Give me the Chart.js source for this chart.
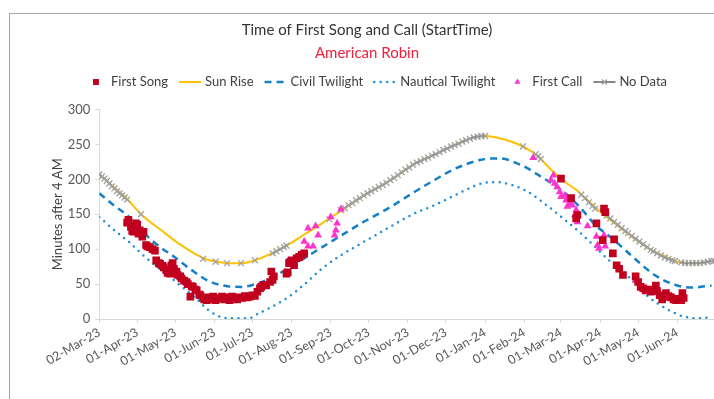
<!DOCTYPE html>
<html>
<head>
<meta charset="utf-8">
<script src="https://cdn.jsdelivr.net/npm/chart.js@4.4.1/dist/chart.umd.min.js"></script>
<style>
  html, body { margin: 0; padding: 0; overflow: hidden; background: #fff; }
  #frame { position: absolute; left: 9px; top: 13px; width: 720px; height: 390px;
           border-left: 1px solid #a6a6a6; border-top: 1px solid #a6a6a6; }
  canvas { display: block; }
</style>
</head>
<body>
<div id="frame"><canvas id="chart" width="714" height="385"></canvas></div>
<script>
// Axis ticks
const tickDates = ['2023-03-02', '2023-04-01', '2023-05-01', '2023-06-01', '2023-07-01', '2023-08-01',
  '2023-09-01', '2023-10-01', '2023-11-01', '2023-12-01', '2024-01-01', '2024-02-01',
  '2024-03-01', '2024-04-01', '2024-05-01', '2024-06-01'];
const tickLabels = ['02-Mar-23', '01-Apr-23', '01-May-23', '01-Jun-23', '01-Jul-23', '01-Aug-23',
  '01-Sep-23', '01-Oct-23', '01-Nov-23', '01-Dec-23', '01-Jan-24', '01-Feb-24',
  '01-Mar-24', '01-Apr-24', '01-May-24', '01-Jun-24'];

// First Song (minutes after 4 AM)
const songDates = ['2023-03-24', '2023-03-25', '2023-03-27', '2023-03-28', '2023-03-29', '2023-03-31',
  '2023-04-01', '2023-04-02', '2023-04-03', '2023-04-05', '2023-04-06', '2023-04-08', '2023-04-09',
  '2023-04-11', '2023-04-13', '2023-04-15', '2023-04-16', '2023-04-18', '2023-04-19', '2023-04-21',
  '2023-04-22', '2023-04-24', '2023-04-25', '2023-04-27', '2023-04-28', '2023-04-29', '2023-04-30',
  '2023-05-02', '2023-05-03', '2023-05-05', '2023-05-06', '2023-05-08', '2023-05-10', '2023-05-11',
  '2023-05-13', '2023-05-14', '2023-05-15', '2023-05-17', '2023-05-18', '2023-05-20', '2023-05-21',
  '2023-05-23', '2023-05-24', '2023-05-26', '2023-05-27', '2023-05-28', '2023-05-30', '2023-05-31',
  '2023-06-02', '2023-06-03', '2023-06-05', '2023-06-07', '2023-06-09', '2023-06-11', '2023-06-13',
  '2023-06-15', '2023-06-17', '2023-06-19', '2023-06-21', '2023-06-23', '2023-06-25', '2023-06-27',
  '2023-06-29', '2023-07-01', '2023-07-03', '2023-07-05', '2023-07-07', '2023-07-08', '2023-07-10',
  '2023-07-12', '2023-07-15', '2023-07-16', '2023-07-17', '2023-07-18', '2023-07-28', '2023-07-29',
  '2023-07-30', '2023-07-31', '2023-08-01', '2023-08-03', '2023-08-05', '2023-08-07', '2023-08-09',
  '2023-08-11',
  '2024-03-01', '2024-03-09', '2024-03-13', '2024-03-14', '2024-03-29', '2024-04-04', '2024-04-05',
  '2024-04-03', '2024-04-11', '2024-04-12', '2024-04-14', '2024-04-16', '2024-04-19', '2024-04-29',
  '2024-05-01', '2024-05-03', '2024-05-05', '2024-05-07', '2024-05-09', '2024-05-11', '2024-05-15',
  '2024-05-16', '2024-05-18', '2024-05-20', '2024-05-21', '2024-05-23', '2024-05-25', '2024-05-27',
  '2024-05-29', '2024-05-31', '2024-06-02', '2024-06-04', '2024-06-05', '2024-06-06'];
const songValues = [138, 142, 132, 126, 125, 137,
  135, 122, 127, 118, 125, 106, 104,
  103, 100, 98, 84, 80, 79, 76,
  74, 70, 66, 65, 77, 80, 72,
  68, 63, 61, 58, 55, 53, 50,
  32, 47, 46, 42, 41, 35, 34,
  30, 28, 27, 31, 30, 28, 32,
  27, 30, 29, 32, 28, 31, 27,
  32, 30, 28, 31, 30, 33, 31,
  32, 34, 33, 39, 44, 46, 49,
  48, 53, 68, 56, 61, 65, 67,
  80, 82, 84, 77, 87, 89, 92,
  94,
  201, 173, 144, 149, 137, 158, 153,
  113, 94, 114, 77, 72, 63, 61,
  53, 46, 44, 41, 42, 39, 48,
  40, 34, 28, 32, 37, 33, 31,
  28, 27, 29, 27, 37, 30];

// First Call
const callDates = ['2023-08-11', '2023-08-14', '2023-08-14', '2023-08-18', '2023-08-20', '2023-08-22',
  '2023-09-01', '2023-09-04', '2023-09-05', '2023-09-06', '2023-09-09',
  '2024-02-08', '2024-02-22', '2024-02-24', '2024-02-25', '2024-02-27', '2024-02-29', '2024-03-01',
  '2024-03-04', '2024-03-05', '2024-03-06', '2024-03-08', '2024-03-10', '2024-03-12', '2024-03-13',
  '2024-03-14', '2024-03-22', '2024-03-29', '2024-03-30', '2024-03-31', '2024-04-03', '2024-04-04',
  '2024-04-05', '2024-04-29'];
const callValues = [111, 130, 104, 104, 133, 120,
  146, 120, 127, 137, 157,
  231, 199, 206, 194, 189, 182, 175,
  177, 170, 161, 166, 163, 149, 156,
  139, 133, 118, 106, 101, 111, 120,
  104, 56];

// Sun Rise
const sunDates = ['2023-03-02', '2023-03-14', '2023-03-25', '2023-04-04', '2023-04-20', '2023-05-03',
  '2023-05-17', '2023-05-25', '2023-06-03', '2023-06-12', '2023-06-23', '2023-07-03', '2023-07-15',
  '2023-07-28', '2023-08-11', '2023-08-25', '2023-09-10', '2023-10-03', '2023-10-16', '2023-11-08',
  '2023-11-22', '2023-12-08', '2023-12-23', '2024-01-02', '2024-01-14', '2024-01-31', '2024-02-11',
  '2024-02-21', '2024-03-02', '2024-03-13', '2024-03-22', '2024-03-31', '2024-04-14', '2024-04-28',
  '2024-05-12', '2024-05-22', '2024-06-03', '2024-06-15', '2024-06-30'];
const sunValues = [207, 188, 170, 150, 127, 109,
  93, 86, 82, 80, 80, 84, 93,
  105, 121, 137, 156, 183, 196, 224,
  235, 249, 260, 262, 258, 247, 234,
  216, 199, 185, 170, 155, 135, 115,
  98, 90, 81, 80, 83];

// Civil Twilight
const civilDates = ['2023-03-02', '2023-03-14', '2023-03-25', '2023-04-03', '2023-04-17', '2023-05-01',
  '2023-05-14', '2023-05-28', '2023-06-11', '2023-06-23', '2023-07-05', '2023-07-15', '2023-07-29',
  '2023-08-19', '2023-09-07', '2023-09-25', '2023-10-16', '2023-11-08', '2023-11-22', '2023-12-08',
  '2023-12-29', '2024-01-12', '2024-01-30', '2024-02-14', '2024-03-01', '2024-03-16', '2024-03-28',
  '2024-04-12', '2024-04-28', '2024-05-14', '2024-05-30', '2024-06-12', '2024-06-28'];
const civilValues = [180, 162, 147, 129, 106, 88,
  70, 54, 47, 46, 51, 58, 72,
  96, 117, 137, 158, 184, 199, 215,
  228, 230, 220, 204, 185, 160, 135,
  113, 87, 63, 49, 45, 48];

// Nautical Twilight
const nauticalDates = ['2023-03-02', '2023-03-14', '2023-03-25', '2023-04-07', '2023-04-20', '2023-05-03',
  '2023-05-16', '2023-05-27', '2023-06-06', '2023-06-17', '2023-06-28', '2023-07-06', '2023-07-17',
  '2023-07-30', '2023-08-12', '2023-08-25', '2023-09-07', '2023-09-20', '2023-10-16', '2023-11-06',
  '2023-11-22', '2023-12-08', '2023-12-29', '2024-01-09', '2024-01-22', '2024-02-04', '2024-02-20',
  '2024-03-04', '2024-03-16', '2024-03-23', '2024-04-08', '2024-04-23', '2024-05-09', '2024-05-25',
  '2024-06-07', '2024-06-20', '2024-06-28'];
const nauticalValues = [146, 127, 111, 89, 70, 51,
  32, 13, 3, 1, 1, 8, 18,
  32, 51, 72, 89, 103, 130, 151,
  163, 177, 194, 196, 192, 182, 161,
  142, 124, 112, 84, 61, 32, 13,
  3, 1, 3];

// No Data (days without recordings, drawn on the sun rise curve)
const noDataDates = ['2023-03-02', '2023-03-04', '2023-03-06', '2023-03-08', '2023-03-10', '2023-03-12',
  '2023-03-14', '2023-03-16', '2023-03-18', '2023-03-20', '2023-03-22', '2023-03-24',
  '2023-04-04',
  '2023-05-23', '2023-06-02', '2023-06-11', '2023-06-22', '2023-07-03',
  '2023-07-17', '2023-07-20', '2023-07-23', '2023-07-26', '2023-07-28',
  '2023-08-31',
  '2023-09-09', '2023-09-12', '2023-09-15', '2023-09-18', '2023-09-21', '2023-09-24', '2023-09-27',
  '2023-09-30', '2023-10-03', '2023-10-06', '2023-10-09', '2023-10-12', '2023-10-15', '2023-10-18',
  '2023-10-21', '2023-10-24', '2023-10-27', '2023-10-30', '2023-11-02', '2023-11-05', '2023-11-08',
  '2023-11-11', '2023-11-14', '2023-11-17', '2023-11-20', '2023-11-23', '2023-11-26', '2023-11-29',
  '2023-12-02', '2023-12-05', '2023-12-08', '2023-12-11', '2023-12-14', '2023-12-17', '2023-12-20',
  '2023-12-23', '2023-12-26', '2023-12-29', '2024-01-01',
  '2024-01-31', '2024-02-10', '2024-02-12', '2024-02-14',
  '2024-03-17', '2024-03-20', '2024-03-23', '2024-03-26', '2024-03-28',
  '2024-04-06', '2024-04-09', '2024-04-12', '2024-04-15', '2024-04-18', '2024-04-21', '2024-04-23',
  '2024-04-26', '2024-04-29', '2024-05-02', '2024-05-05', '2024-05-08', '2024-05-11', '2024-05-13',
  '2024-05-16', '2024-05-19', '2024-05-22', '2024-05-25', '2024-05-28', '2024-05-30',
  '2024-06-04', '2024-06-07', '2024-06-10', '2024-06-13', '2024-06-16', '2024-06-19', '2024-06-22',
  '2024-06-25', '2024-06-28', '2024-06-30'];
const noDataValues = [207, 204, 201, 198, 194, 190,
  187, 183, 180, 177, 174, 171,
  150,
  86, 82, 80, 80, 84,
  94, 97, 100, 103, 105,
  143,
  156, 159, 163, 166, 170, 173, 177,
  180, 183, 186, 189, 192, 195, 199,
  202, 206, 210, 214, 217, 221, 224,
  226, 229, 231, 234, 236, 239, 242,
  244, 247, 249, 251, 254, 256, 258,
  260, 261, 262, 262,
  247, 236, 233, 229,
  178, 173, 167, 162, 158,
  148, 144, 139, 135, 130, 126, 123,
  119, 115, 111, 107, 103, 99, 97,
  94, 91, 88, 86, 84, 83,
  81, 80, 80, 80, 80, 80, 81,
  82, 83, 83];

const legendOrder = ['First Song', 'Sun Rise', 'Civil Twilight', 'Nautical Twilight', 'First Call', 'No Data'];

const FONT = 'Lato, "Open Sans", sans-serif';
const DAY0 = Date.parse('2023-03-02');
const toDay = s => (Date.parse(s) - DAY0) / 86400000;
const pts = (dates, vals) => dates.map((d, i) => ({ x: toDay(d), y: vals[i] }));

// Excel style legend: line sample and/or marker, then the label
function drawSymbol(ctx, ds, x, y, w) {
  if (ds.showLine !== false) {
    ctx.save();
    ctx.strokeStyle = ds.borderColor;
    ctx.lineWidth = ds.borderWidth;
    ctx.setLineDash(ds.borderDash || []);
    ctx.lineCap = ds.borderCapStyle || 'butt';
    ctx.beginPath();
    ctx.moveTo(x, y);
    ctx.lineTo(x + w, y);
    ctx.stroke();
    ctx.restore();
  }
  if (ds.pointRadius > 0) {
    ctx.save();
    ctx.fillStyle = ds.pointBackgroundColor;
    ctx.strokeStyle = ds.pointBorderColor;
    ctx.lineWidth = ds.pointBorderWidth;
    Chart.helpers.drawPoint(ctx, {
      pointStyle: ds.pointStyle, radius: ds.legendRadius,
      borderWidth: ds.pointBorderWidth, rotation: 0
    }, x + w / 2, y);
    ctx.restore();
  }
}

const legendPlugin = {
  id: 'excelLegend',
  afterDraw(chart) {
    const ctx = chart.ctx;
    const y = 68, slot = 22, gap = 4, space = 11;
    ctx.save();
    ctx.font = '13px ' + FONT;
    const items = legendOrder.map(l => chart.data.datasets.find(d => d.label === l));
    const widths = items.map(d => slot + gap + ctx.measureText(d.label).width);
    const total = widths.reduce((a, b) => a + b, 0) + space * (items.length - 1);
    let x = chart.width / 2 - total / 2 + 9;
    items.forEach((d, i) => {
      drawSymbol(ctx, d, x, y, slot);
      ctx.fillStyle = '#404040';
      ctx.textBaseline = 'middle';
      ctx.textAlign = 'left';
      ctx.fillText(d.label, x + slot + gap, y);
      x += widths[i] + space;
    });
    ctx.restore();
  }
};

const RED = '#C0001E', PINK = '#FF33CC';

new Chart(document.getElementById('chart'), {
  type: 'line',
  data: {
    datasets: [
      {
        label: 'First Song', data: pts(songDates, songValues), showLine: false,
        pointStyle: 'rect', pointRadius: 5.4, legendRadius: 4.2,
        pointBackgroundColor: RED, pointBorderColor: RED, pointBorderWidth: 0,
        borderColor: RED, backgroundColor: RED
      },
      {
        label: 'First Call', data: pts(callDates, callValues), showLine: false,
        pointStyle: 'triangle', pointRadius: 4.5, legendRadius: 3.5,
        pointBackgroundColor: PINK, pointBorderColor: PINK, pointBorderWidth: 0,
        borderColor: PINK, backgroundColor: PINK
      },
      {
        label: 'No Data', data: pts(noDataDates, noDataValues), spanGaps: 4,
        borderColor: '#7a7a7a', borderWidth: 1.8,
        pointStyle: 'crossRot', pointRadius: 4.2, legendRadius: 3.5,
        pointBackgroundColor: '#a0a0a0', pointBorderColor: '#a0a0a0', pointBorderWidth: 1.3
      },
      {
        label: 'Sun Rise', data: pts(sunDates, sunValues),
        borderColor: '#FFC000', borderWidth: 2, pointRadius: 0,
        cubicInterpolationMode: 'monotone'
      },
      {
        label: 'Civil Twilight', data: pts(civilDates, civilValues),
        borderColor: '#1580C8', borderWidth: 2.5, borderDash: [7, 5], pointRadius: 0,
        cubicInterpolationMode: 'monotone'
      },
      {
        label: 'Nautical Twilight', data: pts(nauticalDates, nauticalValues),
        borderColor: '#1F8FDA', borderWidth: 2.5, borderDash: [0, 6.5], borderCapStyle: 'round',
        pointRadius: 0, cubicInterpolationMode: 'monotone'
      }
    ]
  },
  options: {
    responsive: false,
    devicePixelRatio: 1,
    animation: false,
    events: [],
    layout: { padding: { left: 8.7, right: 8.7, top: 0, bottom: 0 } },
    plugins: {
      legend: { display: false },
      tooltip: { enabled: false },
      title: {
        display: true, text: 'Time of First Song and Call (StartTime)', color: '#333333',
        font: { family: FONT, size: 15, weight: 'normal' }, padding: { top: 7, bottom: 0 }
      },
      subtitle: {
        display: true, text: 'American Robin', color: '#F0203C',
        font: { family: FONT, size: 15, weight: 'normal' }, padding: { top: 5, bottom: 47.5 }
      }
    },
    scales: {
      x: {
        type: 'linear', min: 0, max: toDay('2024-07-01'),
        afterBuildTicks: s => { s.ticks = tickDates.map(d => ({ value: toDay(d) })); },
        afterFit: s => { s.height = 80; },
        ticks: {
          autoSkip: false, minRotation: 30, maxRotation: 30, padding: 2,
          color: '#595959', font: { family: FONT, size: 12.5 },
          callback: (v, i) => tickLabels[i]
        },
        grid: { drawOnChartArea: false, tickLength: 4, color: '#d9d9d9' },
        border: { color: '#d9d9d9' }
      },
      y: {
        min: 0, max: 300,
        afterFit: s => { s.width = 80.6; },
        ticks: { stepSize: 50, padding: 5, color: '#595959', font: { family: FONT, size: 13 } },
        grid: { drawOnChartArea: false, tickLength: 4, color: '#d9d9d9' },
        border: { color: '#d9d9d9' },
        title: {
          display: true, text: 'Minutes after 4 AM', color: '#404040',
          font: { family: FONT, size: 13 }, padding: { top: 31, bottom: 0 }
        }
      }
    }
  },
  plugins: [legendPlugin]
});
</script>
</body>
</html>
